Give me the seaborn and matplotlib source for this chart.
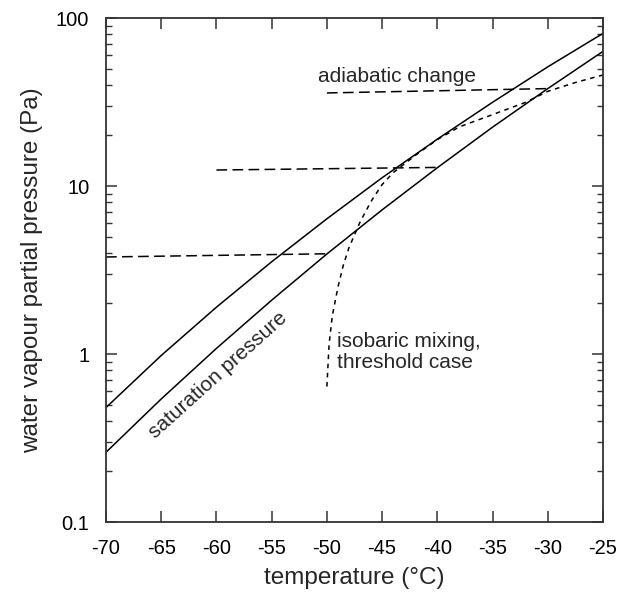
import numpy as np
import seaborn as sns
import matplotlib
matplotlib.use("Agg")
import matplotlib.pyplot as plt
from matplotlib.ticker import LogLocator, FixedLocator, FuncFormatter, NullFormatter

# saturation pressure curves (Pa), read every 5 degC
temps = [-70, -65, -60, -55, -50, -45, -40, -35, -30, -25]
p_water = [0.48, 0.98, 1.90, 3.54, 6.38, 11.2, 19.0, 31.5, 51.2, 81.0]
p_ice = [0.26, 0.54, 1.08, 2.09, 3.94, 7.21, 12.85, 22.4, 38.0, 63.3]

# adiabatic change segments
adia_t = [[-70, -50], [-60, -40], [-50, -30]]
adia_p = [[3.78, 3.95], [12.45, 12.9], [35.8, 38.0]]

# isobaric mixing, threshold case
mix_t = [-50.0, -49.8, -49.5, -49.0, -48.5, -48.0, -47.0, -46.0, -45.0, -44.0,
         -42.0, -40.0, -38.0, -35.0, -32.0, -30.0, -27.5, -25.0]
mix_p = [0.64, 1.15, 1.7, 2.5, 3.4, 4.3, 6.1, 8.1, 10.2, 12.0,
         15.2, 18.9, 22.5, 26.6, 31.5, 36.6, 41.3, 45.8]

sns.set_style("ticks")
plt.rcParams['font.family'] = ['Liberation Sans', 'DejaVu Sans']
plt.rcParams['font.size'] = 15
plt.rcParams['axes.unicode_minus'] = False

fig = plt.figure(figsize=(6.28, 5.97), dpi=100)
ax = fig.add_axes([106/628, 1 - 522/597, 497/628, 504/597])

lw = 1.1
sns.lineplot(x=temps, y=p_water, ax=ax, color='black', lw=lw, estimator=None)
sns.lineplot(x=temps, y=p_ice, ax=ax, color='black', lw=lw, estimator=None)
for t, p in zip(adia_t, adia_p):
    sns.lineplot(x=t, y=p, ax=ax, color='black', lw=lw, estimator=None)
    ax.lines[-1].set_dashes([7, 3.5])
sns.lineplot(x=mix_t, y=mix_p, ax=ax, color='black', lw=lw, estimator=None)
ax.lines[-1].set_dashes([3, 3])

ax.set_yscale('log')
ax.set_xlim(-70, -25)
ax.set_ylim(0.1, 100)
ax.xaxis.set_major_locator(FixedLocator(temps))
ax.yaxis.set_major_locator(FixedLocator([0.1, 1, 10, 100]))
ax.yaxis.set_minor_locator(LogLocator(base=10, subs=np.arange(2, 10)))
ax.yaxis.set_major_formatter(FuncFormatter(lambda v, pos: f"{v:g}"))
ax.yaxis.set_minor_formatter(NullFormatter())

for s in ax.spines.values():
    s.set_visible(True)
    s.set_color('#333333')
    s.set_linewidth(1.3)
ax.tick_params(axis='x', which='major', direction='in', length=8, width=1.1,
               top=True, bottom=True, pad=12, colors='#333333',
               labelcolor='black', labelsize=14.5)
ax.tick_params(axis='y', which='major', direction='in', length=8, width=1.1,
               left=True, right=True, pad=12, colors='#333333',
               labelcolor='black', labelsize=14.5)
ax.tick_params(axis='y', which='minor', direction='in', length=4, width=1.0,
               left=True, right=True, colors='#333333')

ax.set_xlabel('temperature (°C)', fontsize=17.5)
ax.set_ylabel('water vapour partial pressure (Pa)', fontsize=17.5)
ax.xaxis.set_label_coords(0.5, -0.09)
ax.yaxis.set_label_coords(-0.127, 0.5)

ax.text(-50.8, 44.6, 'adiabatic change', ha='left', va='center')
ax.text(-49.1, 1.03, 'isobaric mixing,\nthreshold case', ha='left', va='center',
        linespacing=1.1)
ax.text(-59.85, 0.75, 'saturation pressure', ha='center', va='center',
        rotation=42, rotation_mode='anchor')

fig.savefig('out.png', dpi=100)
